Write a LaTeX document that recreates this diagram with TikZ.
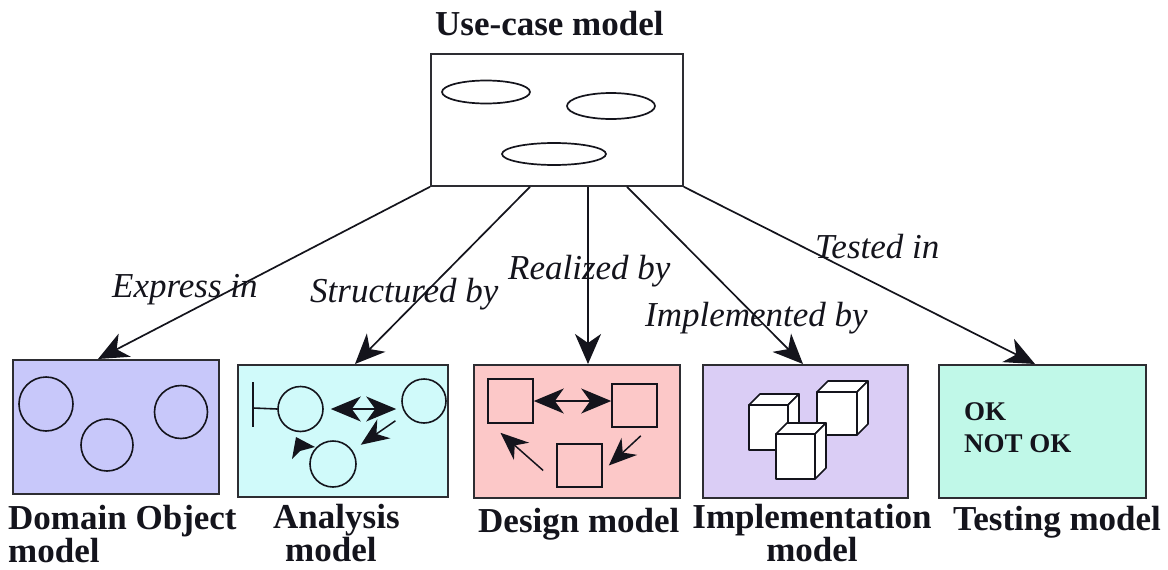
\documentclass[tikz,border=0pt]{standalone}
\usepackage{fontspec}
\setmainfont{Liberation Serif}
\usetikzlibrary{arrows.meta,calc}

\definecolor{inkc}{RGB}{20,20,28}
\definecolor{framec}{RGB}{45,45,50}
\definecolor{domfill}{RGB}{200,200,250}
\definecolor{anafill}{RGB}{208,250,250}
\definecolor{desfill}{RGB}{252,200,200}
\definecolor{impfill}{RGB}{218,205,245}
\definecolor{tstfill}{RGB}{192,248,232}

% one isometric-looking box: front face, top face, right face
\newcommand\drawcube[5]{% x, y (front top-left), width, height, depth
  \filldraw[cubeface] (#1,#2) rectangle ++(#3,#4);
  \filldraw[cubeface] (#1,#2) -- ++(#5,-#5) -- ++(#3,0) -- ++(-#5,#5) -- cycle;
  \filldraw[cubeface] (#1+#3,#2) -- ++(#5,-#5) -- ++(0,#4) -- ++(-#5,#5) -- cycle;
}

\begin{document}
\begin{tikzpicture}[x=1pt,y=-1pt,
  modelbox/.style={draw=framec, line width=1.8pt, anchor=north west, inner sep=0pt},
  boldlbl/.style={font=\fontsize{35}{30}\selectfont\bfseries, text=inkc, inner sep=0pt, anchor=base west},
  itlbl/.style={font=\fontsize{35}{40}\selectfont\itshape, text=inkc, inner sep=0pt, anchor=base west},
  conn/.style={line width=1.7pt, draw=inkc, -{Stealth[length=30pt,width=26pt,inset=9pt]}},
  bothconn/.style={line width=1.5pt, draw=inkc, {Stealth[length=30pt,width=25pt,inset=9pt]}-{Stealth[length=30pt,width=25pt,inset=9pt]}},
  oneconn/.style={line width=1.5pt, draw=inkc, -{Stealth[length=28pt,width=23pt,inset=9pt]}},
  usecase/.style={draw=inkc, line width=1.7pt},
  obj/.style={circle, draw=inkc, line width=1.6pt, inner sep=0pt},
  cls/.style={rectangle, draw=inkc, line width=1.6pt, inner sep=0pt},
  cubeface/.style={fill=white, draw=inkc, line width=1.6pt, line join=round},
]
\useasboundingbox (0,0) rectangle (1168,570);
\fill[white] (0,0) rectangle (1168,570);

% ---- use-case model ----
\node[boldlbl] (uctitle) at (435,35) {Use-case model};
\node[modelbox, fill=white, minimum width=252pt, minimum height=132pt] (uc) at (430,53) {};
\draw[usecase] (486,92) ellipse [x radius=44, y radius=11.5];
\draw[usecase] (611,106) ellipse [x radius=44, y radius=13];
\draw[usecase] (554,154) ellipse [x radius=52, y radius=11];

% ---- the five derived models ----
\node[modelbox, fill=domfill, minimum width=206pt, minimum height=134pt] (dom) at (12,359) {};
\node[modelbox, fill=anafill, minimum width=210pt, minimum height=132pt] (ana) at (237,364) {};
\node[modelbox, fill=desfill, minimum width=206pt, minimum height=133pt] (des) at (473,364) {};
\node[modelbox, fill=impfill, minimum width=205pt, minimum height=133pt] (imp) at (702,364) {};
\node[modelbox, fill=tstfill, minimum width=207pt, minimum height=133pt] (tst) at (938,364) {};

% domain objects
\node[obj, minimum size=54pt] (o1) at (46,404) {};
\node[obj, minimum size=52pt] (o2) at (107,445) {};
\node[obj, minimum size=53pt] (o3) at (181,412) {};

% analysis classes
\node[obj, minimum size=45pt] (a1) at (300.5,409) {};
\node[obj, minimum size=44pt] (a2) at (424,401) {};
\node[obj, minimum size=46pt] (a3) at (333,464) {};
\draw[draw=inkc, line width=1.6pt] (253,382) -- (253,427);
\draw[draw=inkc, line width=1.6pt] (253,408) -- (a1.west);
\draw[bothconn] ([xshift=7pt]a1.east) -- ([xshift=-5pt]a1.east -| a2.west);
\draw[oneconn, shorten <=12pt, shorten >=10pt] (a2) -- (a3);
\fill[inkc] (296,437) -- (292,459) -- (300,451) -- (315,447) -- cycle;

% design classes
\node[cls, minimum width=45pt, minimum height=44pt] (d1) at (510.5,401) {};
\node[cls, minimum width=45pt, minimum height=43pt] (d2) at (634.5,405.5) {};
\node[cls, minimum width=45pt, minimum height=43pt] (d3) at (579.5,465.5) {};
\draw[bothconn] (d1.east) -- (d1.east -| d2.west);
\draw[oneconn] ([shift={(-17,8)}]d2.south east) -- ([xshift=6pt]d3.east);
\draw[oneconn] ([shift={(-13,5)}]d3.west) -- ([shift={(-10,9)}]d1.south);

% implementation components
\drawcube{749}{405}{39}{45}{11}
\drawcube{817}{392}{40}{43}{11}
\drawcube{776}{434}{39}{45}{11}

% test verdicts (anchored at the baseline of the last line)
\node[font=\fontsize{27}{32}\selectfont\bfseries, text=inkc, inner sep=0pt, anchor=base west, align=left] (verdict) at (964,452) {OK\\NOT OK};

% ---- model captions ----
\node[boldlbl, align=left] (domlbl) at (8,562) {Domain Object\\model};
\node[boldlbl, align=left] (analbl) at (273,561) {Analysis\\\hspace*{12pt}model};
\node[boldlbl] (deslbl) at (478,532) {Design model};
\node[boldlbl, align=center, anchor=base] (implbl) at (812,561) {Implementation\\model};
\node[boldlbl] (tstlbl) at (953,530) {Testing model};

% ---- traces from the use-case model ----
\draw[conn] (uc.south west) -- ([xshift=86pt]dom.north west);
\draw[conn] ([xshift=100pt]uc.south west) -- ([xshift=118pt]ana.north west);
\draw[conn] ([xshift=158pt]uc.south west) -- ([xshift=115pt]des.north west);
\draw[conn] ([xshift=197pt]uc.south west) -- ([xshift=101pt]imp.north west);
\draw[conn] (uc.south east) -- ([xshift=97pt]tst.north west);

\node[itlbl] (l1) at (112,297) {Express in};
\node[itlbl] (l2) at (310,302) {Structured by};
\node[itlbl] (l3) at (508,279) {Realized by};
\node[itlbl] (l4) at (645,326) {Implemented by};
\node[itlbl] (l5) at (815,258) {Tested in};
\end{tikzpicture}
\end{document}
